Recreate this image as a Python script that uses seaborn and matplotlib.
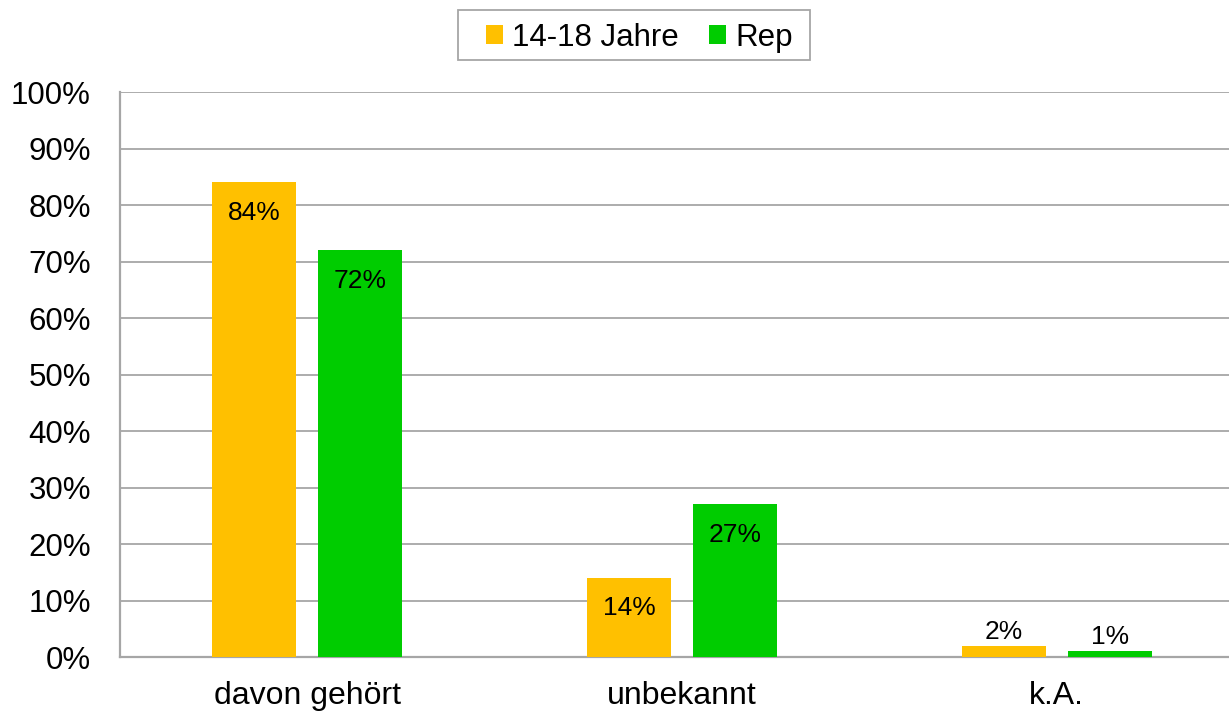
import pandas as pd
import matplotlib.pyplot as plt
from matplotlib.patches import Rectangle
import seaborn as sns

categories = ['davon gehört', 'unbekannt', 'k.A.']
series = ['14-18 Jahre', 'Rep']
jugend = [84, 14, 2]
rep = [72, 27, 1]
colors = ['#FFC000', '#00CC00']

df = pd.DataFrame({
    'category': categories * 2,
    'group': [series[0]] * 3 + [series[1]] * 3,
    'value': jugend + rep,
})

sns.set_style('white')
plt.rcParams['font.family'] = ['Liberation Sans', 'DejaVu Sans']
plt.rcParams['text.color'] = 'black'
plt.rcParams['xtick.color'] = 'black'
plt.rcParams['ytick.color'] = 'black'

fig = plt.figure(figsize=(12.29, 7.11), dpi=100)
ax = fig.add_axes([0.0976, 0.0759, 0.9146, 0.7947])

sns.barplot(data=df, x='category', y='value', hue='group', palette=colors,
            width=0.566, gap=0.21, ax=ax, zorder=3, saturation=1, linewidth=0)

ax.set_xlim(-0.5, 2.5)
ax.set_ylim(0, 100)
ax.set_yticks(range(0, 101, 10))
ax.set_yticklabels([f'{v}%' for v in range(0, 101, 10)], fontsize=22.5)
ax.tick_params(axis='x', labelsize=23, length=0, pad=17)
ax.tick_params(axis='y', length=0, pad=21)
ax.set_xlabel('')
ax.set_ylabel('')
ax.grid(axis='y', color='#A6A6A6', linewidth=1.3, zorder=0)
for side in ['top', 'right']:
    ax.spines[side].set_visible(False)
for side in ['left', 'bottom']:
    ax.spines[side].set_color('#A6A6A6')
    ax.spines[side].set_linewidth(1.6)

for cont in ax.containers:
    for bar in cont:
        h = bar.get_height()
        x = bar.get_x() + bar.get_width() / 2
        if h >= 10:
            off = -22
        else:
            off = 10
        ax.annotate(f'{h:.0f}%', (x, h), xytext=(0, off), textcoords='offset points',
                    ha='center', va='center', fontsize=19, zorder=5)

# legend box drawn separately so the padding matches
fig.patches.append(Rectangle((0.3727, 0.9156), 0.2864, 0.0703, transform=fig.transFigure,
                             facecolor='none', edgecolor='#A6A6A6', linewidth=1.3, zorder=0))
handles, labels = ax.get_legend_handles_labels()
ax.get_legend().remove()
leg = fig.legend(handles, labels, loc='center', bbox_to_anchor=(0.52, 0.947),
                 ncol=2, fontsize=22.5, frameon=False,
                 handlelength=0.55, handleheight=0.55, handletextpad=0.3,
                 columnspacing=0.95, borderpad=0, borderaxespad=0)
leg.set_zorder(5)

plt.savefig('out.png', dpi=100)
